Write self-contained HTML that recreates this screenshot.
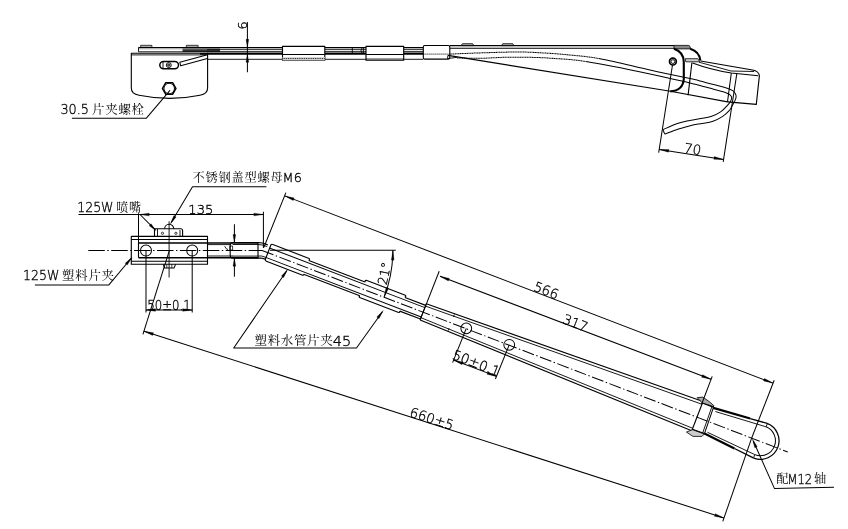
<!DOCTYPE html>
<html lang="zh-CN">
<head>
<meta charset="utf-8">
<title>雨刮臂图纸</title>
<style>
html,body{margin:0;padding:0;background:#fff;}
body{width:848px;height:529px;overflow:hidden;}
svg{display:block;filter:grayscale(100%);}
.t{font-family:"DejaVu Sans Light","DejaVu Sans","Liberation Sans","Noto Serif CJK SC",sans-serif;font-weight:200;fill:#000;stroke:#000;stroke-width:0.34px;}
.c{font-family:"Noto Serif CJK SC","Noto Sans CJK SC",serif;fill:#000;stroke:none;font-weight:400;}
</style>
</head>
<body>
<svg width="848" height="529" viewBox="0 0 848 529" fill="none" stroke="#000" stroke-linecap="butt" stroke-linejoin="round">
<rect x="0" y="0" width="848" height="529" fill="#fff" stroke="none"/>
<g id="sideview">
<path d="M131.3 53.2 L207.6 53.2 L207.6 88 Q207.6 94 200 95.2 Q170 101.5 139 95.2 Q131.3 94 131.3 88 Z" stroke-width="1.12" fill="none" />
<line x1="131.3" y1="54.9" x2="207.6" y2="54.9" stroke-width="0.9" />
<rect x="138.5" y="47.5" width="284.8" height="1.9" fill="#b5b5b5" stroke="none"/>
<rect x="182.5" y="47.6" width="37.5" height="1.8" fill="#777" stroke="none"/>
<rect x="182.5" y="49.3" width="37.5" height="2.6" fill="#333" stroke="none"/>
<line x1="138.5" y1="47.5" x2="138.5" y2="51.8" stroke-width="0.9" />
<line x1="138.5" y1="51.8" x2="207" y2="51.8" stroke-width="0.9" />
<rect x="140.6" y="45.3" width="11.3" height="2.2" fill="#aaa" stroke="#000" stroke-width="0.7"/>
<rect x="186.3" y="45.3" width="11.8" height="2.2" fill="#aaa" stroke="#000" stroke-width="0.7"/>
<rect x="159.8" y="61.4" width="18.7" height="7.4" rx="3.7" stroke-width="1.46" fill="none" />
<line x1="163" y1="61.6" x2="163" y2="68.6" stroke-width="0.9" />
<circle cx="168.8" cy="65.1" r="2.5" stroke-width="0.9" fill="none"/>
<circle cx="168.8" cy="65.1" r="1.2" stroke-width="0.78" fill="#777"/>
<path d="M206.5 54.9 L179.8 62.2 L180.7 65.8 L207.4 58.4" stroke-width="1.01" fill="none" />
<path d="M176 88.5 L172.6 94.39 L165.8 94.39 L162.4 88.5 L165.8 82.61 L172.6 82.61 Z" stroke-width="1.46" fill="none" />
<circle cx="169.2" cy="88.5" r="5.3" stroke-width="1.01" fill="none"/>
<path d="M170 90.4 L146.2 118.3 L71.9 118.3" stroke-width="1.01" fill="none" />
<text x="60.4" y="113.9" font-size="14.4" class="t" textLength="28.6" lengthAdjust="spacingAndGlyphs">30.5</text>
<text x="92 105.2 118.4 131.6" y="113.8" font-size="12.4" class="c">片夹螺栓</text>
<line x1="138.5" y1="47.5" x2="423.3" y2="47.5" stroke-width="1.01" />
<line x1="207" y1="49.6" x2="423.3" y2="49.6" stroke-width="0.78" />
<line x1="207" y1="51.9" x2="423.3" y2="51.9" stroke-width="1.23" />
<line x1="200" y1="53.9" x2="423.3" y2="53.9" stroke-width="1.9" />
<line x1="207.6" y1="59.3" x2="423.3" y2="59.3" stroke-width="0.9" />
<rect x="282.5" y="46.4" width="42.3" height="13.9" rx="0" stroke-width="1.12" fill="#fff" />
<rect x="282.5" y="57" width="42.30000000000001" height="3.3" fill="#d8d8d8" stroke="none"/>
<line x1="282.5" y1="54.6" x2="324.8" y2="54.6" stroke-width="1.01" />
<rect x="366" y="46.4" width="37.7" height="13.9" rx="0" stroke-width="1.12" fill="#fff" />
<line x1="366" y1="54.6" x2="403.7" y2="54.6" stroke-width="1.01" />
<line x1="282.5" y1="58.6" x2="324.8" y2="58.6" stroke-width="0.9" stroke-dasharray="1 0.8"/>
<line x1="366" y1="59" x2="403.7" y2="59" stroke-width="0.78" />
<line x1="352.3" y1="47.5" x2="352.3" y2="53" stroke-width="0.9" />
<path d="M362 47.8 Q360 50.5 362 53.2" stroke-width="0.9" fill="none" />
<line x1="363.4" y1="47.5" x2="363.4" y2="53.2" stroke-width="0.9" />
<rect x="423.3" y="45.5" width="26.5" height="13.6" rx="1.5" stroke-width="1.12" fill="#fff" />
<line x1="423.3" y1="54.1" x2="449.8" y2="54.1" stroke-width="0.9" stroke-dasharray="1.2 0.8"/>
<line x1="449.8" y1="45.6" x2="674" y2="45.6" stroke-width="1.12" />
<line x1="449.8" y1="48.3" x2="674" y2="48.3" stroke-width="1.12" />
<path d="M461.3 45.6 L462.3 43.8 L472.7 43.8 L473.7 45.6 Z" stroke-width="0.9" fill="#c8c8c8" />
<path d="M501.7 45.6 L502.7 43.8 L512.8 43.8 L513.8 45.6 Z" stroke-width="0.9" fill="#c8c8c8" />
<line x1="447.9" y1="55.4" x2="670.5" y2="91.3" stroke-width="1.12" />
<line x1="670.5" y1="91.3" x2="727.5" y2="101.9" stroke-width="1.12" />
<path d="M447.9 55.4 L447.5 58.6 L457 57.3" stroke-width="0.9" fill="none" />
<path d="M449.8 54.1 C454.83 53.9 468.72 53.25 480 52.9 C491.28 52.55 507.08 52 517.5 52 C527.92 52 534.17 52.43 542.5 52.9 C550.83 53.37 557.92 53.83 567.5 54.8 C577.08 55.77 586.25 56.17 600 58.7" stroke-width="1.01" fill="none" stroke-dasharray="1.3 0.4"/>
<path d="M600 58.7 C613.75 61.23 635 66.68 650 70 C665 73.32 681.67 76.78 690 78.6 C698.33 80.42 696.07 79.92 700 80.9 C703.93 81.88 709.07 83.27 713.6 84.5 C718.13 85.73 724.02 87.27 727.2 88.3 C730.38 89.33 731.33 89.8 732.7 90.7 C734.07 91.6 734.83 92.63 735.4 93.7 C735.97 94.77 736.23 95.82 736.1 97.1 C735.97 98.38 735.28 99.92 734.6 101.4 C733.92 102.88 732.9 104.47 732 106 C731.1 107.53 730.82 108.83 729.2 110.6 C727.58 112.37 725.12 114.77 722.3 116.6 C719.48 118.43 715.63 120.45 712.3 121.6 C708.97 122.75 705.85 122.87 702.3 123.5 C698.75 124.13 694.97 124.47 691 125.4 C687.03 126.33 682.87 127.65 678.5 129.1 C674.13 130.55 667.08 133.27 664.8 134.1" stroke-width="1.01" fill="none" />
<path d="M457 57.9 C460.83 57.97 472 58.4 480 58.3 C488 58.2 496.67 57.47 505 57.3 C513.33 57.13 521.67 57.1 530 57.3 C538.33 57.5 545.67 57.78 555 58.5 C564.33 59.22 570.17 59.03 586 61.6" stroke-width="1.01" fill="none" stroke-dasharray="1.3 0.4"/>
<path d="M586 61.6 C601.83 64.17 632.67 70.33 650 73.9 C667.33 77.47 681.67 81.07 690 83 C698.33 84.93 696.07 84.45 700 85.5 C703.93 86.55 709.28 88.1 713.6 89.3 C717.92 90.5 723.17 91.78 725.9 92.7 C728.63 93.62 729.03 94.02 730 94.8 C730.97 95.58 731.6 96.33 731.7 97.4 C731.8 98.47 731.35 99.83 730.6 101.2 C729.85 102.57 728.8 103.87 727.2 105.6 C725.6 107.33 723.7 109.77 721 111.6 C718.3 113.43 714.33 115.45 711 116.6 C707.67 117.75 704.53 117.87 701 118.5 C697.47 119.13 693.75 119.57 689.8 120.4 C685.85 121.23 681.78 121.95 677.3 123.5 C672.82 125.05 665.3 128.67 662.9 129.7" stroke-width="1.01" fill="none" />
<line x1="662.9" y1="129.7" x2="664.8" y2="134.1" stroke-width="1.01" />
<path d="M674 45.4 L688.5 45.4 Q690.5 45.6 690.4 48.9 L674 48.9 Z" fill="#888" stroke="#000" stroke-width="0.8"/>
<path d="M674 48.7 Q683.8 52 683.8 62 L683.8 79 Q683 90.5 670.3 91.4" stroke-width="2.13" fill="none" />
<path d="M690.2 48.7 Q699.5 51.5 700.4 60.6" stroke-width="2.13" fill="none" />
<path d="M685.2 58.7 L697.8 58.7 L699.8 61.8 L685.8 61.8 Z" fill="#ccc" stroke="#000" stroke-width="0.8"/>
<circle cx="672.9" cy="61.6" r="3.4" stroke-width="1.68" fill="none"/>
<circle cx="672.9" cy="61.6" r="1.9" stroke-width="0.9" fill="none"/>
<line x1="691.9" y1="62.5" x2="688.1" y2="95.2" stroke-width="1.12" />
<path d="M700.6 61 L752.5 70 Q758.8 71.2 759.4 75.6 L756.3 104.4 L727.5 101.9" stroke-width="1.12" fill="none" />
<path d="M692.5 63 Q710 69.5 731.3 73.1 L758.2 75.7" stroke-width="1.01" fill="none" />
<path d="M699 62.2 L731 71 L754 71.5" stroke-width="0.9" fill="none" />
<line x1="731.3" y1="73.1" x2="727.5" y2="101.9" stroke-width="1.01" />
<line x1="672.5" y1="65" x2="658.7" y2="152.6" stroke-width="1.01" />
<line x1="736.9" y1="73.1" x2="723.2" y2="161.8" stroke-width="1.01" />
<line x1="659.3" y1="149.4" x2="723.5" y2="159.4" stroke-width="1.01" />
<path d="M659.3 149.4 L668.89 149.53 L668.48 152.2 Z" fill="#000" stroke="#000" stroke-width="0.3"/>
<path d="M723.5 159.4 L713.91 159.27 L714.32 156.6 Z" fill="#000" stroke="#000" stroke-width="0.3"/>
<text x="692" y="153.8" font-size="13.4" text-anchor="middle" class="t" transform="rotate(8.9 692 153.8)">70</text>
<line x1="247.4" y1="21.9" x2="247.4" y2="72.3" stroke-width="1.01" />
<path d="M247.4 47.3 L246.05 39.3 L248.75 39.3 Z" fill="#000" stroke="#000" stroke-width="0.3"/>
<path d="M247.4 54.3 L248.75 62.3 L246.05 62.3 Z" fill="#000" stroke="#000" stroke-width="0.3"/>
<text x="247" y="29.6" font-size="12.8" text-anchor="start" class="t" transform="rotate(-90 247 29.6)">6</text>
</g>
<g id="planview">
<rect x="131.3" y="236.4" width="76.2" height="27.9" rx="0" stroke-width="1.12" fill="none" />
<line x1="131.3" y1="239.6" x2="207.5" y2="239.6" stroke-width="1.01" />
<line x1="131.3" y1="261.2" x2="207.5" y2="261.2" stroke-width="1.01" />
<line x1="138.5" y1="243" x2="258" y2="243" stroke-width="1.46" />
<line x1="138.5" y1="257.7" x2="258" y2="257.7" stroke-width="1.46" />
<line x1="138.5" y1="243" x2="138.5" y2="257.7" stroke-width="1.12" />
<line x1="207.5" y1="244.6" x2="230" y2="244.6" stroke-width="0.9" />
<line x1="207.5" y1="256" x2="233" y2="256" stroke-width="0.9" />
<circle cx="146" cy="250.6" r="5.5" stroke-width="1.01" fill="none"/>
<circle cx="192.2" cy="250.6" r="5.5" stroke-width="1.01" fill="none"/>
<path d="M154.5 236.4 L154.5 228.8 L181 228.8 Q182.6 229 182.6 230.5 L182.6 236.4" stroke-width="1.12" fill="none" />
<line x1="157.5" y1="228.8" x2="157.5" y2="236.4" stroke-width="0.9" />
<line x1="180" y1="230" x2="180" y2="236.4" stroke-width="0.9" />
<circle cx="162.5" cy="233.3" r="1.1" stroke-width="0.78" fill="none"/>
<circle cx="175.9" cy="233.3" r="1.1" stroke-width="0.78" fill="none"/>
<path d="M164.6 228.8 A4.6 4.6 0 0 1 173.8 228.8" stroke-width="1.12" fill="none" />
<path d="M163.2 264.4 L164.6 268 L174 268 L175.6 264.4" stroke-width="1.01" fill="none" />
<line x1="166.8" y1="264.4" x2="166.8" y2="268" stroke-width="0.78" />
<line x1="171.8" y1="264.4" x2="171.8" y2="268" stroke-width="0.78" />
<line x1="169.1" y1="221.3" x2="169.1" y2="277.5" stroke-width="0.9" />
<line x1="88.3" y1="250.5" x2="262" y2="250.5" stroke-width="1.01" stroke-dasharray="16.5 2.5 1.4 2.5"/>
<path d="M258 242.5 L233 242.5 Q230.2 242.7 230.2 245.5 L230.2 255.2 Q230.2 258.2 233 258.2 L258 258.2 Z" stroke-width="1.12" fill="none" />
<line x1="232.6" y1="244.5" x2="258" y2="244.5" stroke-width="0.9" />
<line x1="232.6" y1="256.1" x2="258" y2="256.1" stroke-width="0.9" />
<path d="M224.7 246.3 Q226 249.3 228 249.6" stroke-width="0.9" fill="none" />
<rect x="229.8" y="246" width="2.8" height="4" rx="0" stroke-width="0.78" fill="none" />
<path d="M258 242.7 L262.5 243 L267.8 244.8" stroke-width="1.23" fill="none" />
<path d="M258 258.1 L261 258 L265.4 259.2" stroke-width="1.23" fill="none" />
<path d="M258 244.6 L262 244.9 L267.2 246.6" stroke-width="0.9" fill="none" />
<path d="M258 256.0 L261.6 256.0 L266.0 257.4" stroke-width="0.9" fill="none" />
<line x1="308.83" y1="260.51" x2="365.03" y2="282.08" stroke-width="1.12" />
<line x1="303.56" y1="274.23" x2="359.76" y2="295.81" stroke-width="1.12" />
<line x1="404.99" y1="297.42" x2="425.72" y2="305.38" stroke-width="1.12" />
<line x1="399.72" y1="311.14" x2="420.45" y2="319.1" stroke-width="1.12" />
<line x1="269.41" y1="247.95" x2="424.86" y2="307.62" stroke-width="1.01" />
<line x1="265.79" y1="257.38" x2="421.24" y2="317.05" stroke-width="1.01" />
<path d="M272.2 244.31 L309.08 258.46 L309.61 259.31 L308.83 260.51" stroke-width="1.12" fill="none" />
<path d="M265.79 261.02 L302.67 275.17 L303.63 274.9 L303.56 274.23" stroke-width="1.12" fill="none" />
<path d="M272.2 244.31 L270.95 244.79 L265.18 259.82 L265.79 261.02" stroke-width="1.12" fill="none" />
<path d="M365.03 282.08 L365.29 280.57 L366.25 280.3 L405.28 295.28 L405.81 296.13 L404.99 297.42" stroke-width="1.12" fill="none" />
<path d="M359.76 295.81 L359.13 296.63 L359.62 297.57 L398.65 312.55 L399.64 312.19 L399.72 311.14" stroke-width="1.12" fill="none" />
<line x1="262.02" y1="250.47" x2="787.73" y2="451.95" stroke-width="1.01" stroke-dasharray="12.2 2.5 1.4 2.5"/>
<line x1="426.32" y1="303.79" x2="703.01" y2="401.44" stroke-width="1.12" />
<line x1="420.12" y1="319.94" x2="691.76" y2="430.74" stroke-width="1.12" />
<line x1="425.43" y1="306.12" x2="701.93" y2="404.24" stroke-width="0.9" />
<line x1="420.98" y1="317.7" x2="692.69" y2="428.31" stroke-width="0.9" />
<line x1="426.32" y1="303.79" x2="420.12" y2="319.94" stroke-width="1.01" />
<line x1="454.33" y1="314.54" x2="453.4" y2="316.97" stroke-width="0.9" />
<line x1="448.17" y1="330.6" x2="449.1" y2="328.17" stroke-width="0.9" />
<circle cx="466.28" cy="328.34" r="5.4" stroke-width="1.01" fill="none"/>
<circle cx="509.23" cy="344.82" r="5.4" stroke-width="1.01" fill="none"/>
<line x1="703.01" y1="401.43" x2="692.04" y2="430" stroke-width="1.12" />
<line x1="711.82" y1="406.95" x2="702.6" y2="433.19" stroke-width="0.9" />
<line x1="713.4" y1="407.56" x2="704.37" y2="433.87" stroke-width="1.01" />
<line x1="702.54" y1="402.64" x2="713.9" y2="407.11" stroke-width="2.02" />
<line x1="692.19" y1="429.62" x2="704.3" y2="434.06" stroke-width="2.02" />
<path d="M697.2 397.6 L702.9 397.1 L709.5 401.8 L713.8 405.6 L713.3 406.5 L702 402.8 Z" fill="#aaa" stroke="#000" stroke-width="0.8"/>
<path d="M686.4 432.1 L693 436.4 L702 436.4 L704.3 434 L692.5 429.7 Z" fill="#ccc" stroke="#000" stroke-width="0.8"/>
<line x1="713.26" y1="407.94" x2="750.22" y2="418.53" stroke-width="2.24" />
<line x1="750.22" y1="418.53" x2="767.11" y2="423.36" stroke-width="1.34" />
<line x1="704.48" y1="433.59" x2="734.43" y2="448.5" stroke-width="2.24" />
<line x1="734.43" y1="448.5" x2="753.78" y2="458.09" stroke-width="1.34" />
<line x1="715.41" y1="411.55" x2="766.1" y2="426.83" stroke-width="0.9" />
<line x1="707.45" y1="432.27" x2="754.79" y2="454.62" stroke-width="0.9" />
<path d="M767.11 423.36 A18.6 18.6 0 0 1 753.78 458.09" stroke-width="1.23" fill="none" />
<path d="M766.1 426.83 A15.0 15.0 0 0 1 754.79 454.62" stroke-width="1.01" fill="none" />
<line x1="767.25" y1="423.84" x2="766.1" y2="426.83" stroke-width="0.9" />
<line x1="753.68" y1="457.51" x2="754.79" y2="454.62" stroke-width="0.9" />
<line x1="78.5" y1="214.5" x2="263.4" y2="214.5" stroke-width="1.01" />
<path d="M139.6 214.5 L149.1 213.15 L149.1 215.85 Z" fill="#000" stroke="#000" stroke-width="0.3"/>
<path d="M263.4 214.5 L253.9 215.85 L253.9 213.15 Z" fill="#000" stroke="#000" stroke-width="0.3"/>
<line x1="138.5" y1="213.3" x2="138.5" y2="243" stroke-width="1.01" />
<line x1="263.4" y1="211.8" x2="263.4" y2="248" stroke-width="1.01" />
<text x="188.3" y="214.3" font-size="12.8" class="t" textLength="25" lengthAdjust="spacingAndGlyphs">135</text>
<text x="77.2" y="211.7" font-size="13.3" class="t" textLength="36.3" lengthAdjust="spacingAndGlyphs">125W</text>
<text x="116.3 129" y="211.8" font-size="12.0" class="c">喷嘴</text>
<line x1="140" y1="214.5" x2="155.6" y2="230.2" stroke-width="1.01" />
<path d="M155.8 230.4 L149.22 225.66 L151.06 223.82 Z" fill="#000" stroke="#000" stroke-width="0.3"/>
<text x="192.4 205.4 218.4 231.4 244.4 257.4 270.4" y="181.8" font-size="12.2" class="c">不锈钢盖型螺母</text>
<text x="282.6" y="181.6" font-size="12.7" class="t" textLength="19.2" lengthAdjust="spacingAndGlyphs">M6</text>
<path d="M266.4 186.8 L192.5 186.8 L171.2 222.6" stroke-width="1.01" fill="none" />
<path d="M170.4 224 L173.88 215.6 L176.12 216.93 Z" fill="#000" stroke="#000" stroke-width="0.3"/>
<text x="23.1" y="280.2" font-size="13.3" class="t" textLength="36.3" lengthAdjust="spacingAndGlyphs">125W</text>
<text x="62 75.2 88.4 101.6" y="280.2" font-size="12.4" class="c">塑料片夹</text>
<path d="M34.9 284.9 L108.9 284.9 L131.2 258.2" stroke-width="1.01" fill="none" />
<path d="M132 257.3 L127.23 265.04 L125.23 263.37 Z" fill="#000" stroke="#000" stroke-width="0.3"/>
<line x1="146" y1="251" x2="146" y2="312.5" stroke-width="1.01" />
<line x1="192.2" y1="251" x2="192.2" y2="312.5" stroke-width="1.01" />
<line x1="146" y1="310" x2="192.2" y2="310" stroke-width="1.01" />
<path d="M146 310 L155.5 308.65 L155.5 311.35 Z" fill="#000" stroke="#000" stroke-width="0.3"/>
<path d="M192.2 310 L182.7 311.35 L182.7 308.65 Z" fill="#000" stroke="#000" stroke-width="0.3"/>
<text x="147.2" y="309.8" font-size="13.6" class="t" textLength="43.5" lengthAdjust="spacingAndGlyphs">50±0.1</text>
<line x1="234.4" y1="224.3" x2="234.4" y2="242.6" stroke-width="1.01" />
<line x1="234.4" y1="258.2" x2="234.4" y2="276.7" stroke-width="1.01" />
<path d="M234.4 242.6 L233.05 234.6 L235.75 234.6 Z" fill="#000" stroke="#000" stroke-width="0.3"/>
<path d="M234.4 258.2 L235.75 266.2 L233.05 266.2 Z" fill="#000" stroke="#000" stroke-width="0.3"/>
<line x1="270" y1="250.3" x2="395.8" y2="250.3" stroke-width="1.01" />
<path d="M392.9 250.3 A130.7 130.7 0 0 1 384.22 296.84" stroke-width="1.01" fill="none" />
<path d="M392.9 250.6 L394.06 260.13 L391.36 260.07 Z" fill="#000" stroke="#000" stroke-width="0.3"/>
<path d="M384.22 296.84 L386.1 287.43 L388.64 288.32 Z" fill="#000" stroke="#000" stroke-width="0.3"/>
<text x="386.6" y="285.4" font-size="12.8" text-anchor="start" class="t" transform="rotate(-79 386.6 285.4)">21°</text>
<text x="254.5 267.65 280.8 293.95 307.1 320.25" y="344.8" font-size="12.5" class="c">塑料水管片夹</text>
<text x="332.8" y="345.5" font-size="13.3" class="t" textLength="18.4" lengthAdjust="spacingAndGlyphs">45</text>
<path d="M286.74 270.7 L233.7 348 L356.5 348 L382.4 311.7" stroke-width="1.01" fill="none" />
<path d="M383.2 310.6 L378.96 318.64 L376.85 317.11 Z" fill="#000" stroke="#000" stroke-width="0.3"/>
<path d="M287.64 269.4 L283.62 277.56 L281.47 276.09 Z" fill="#000" stroke="#000" stroke-width="0.3"/>
<line x1="284.8" y1="195.9" x2="772.9" y2="383.1" stroke-width="1.01" />
<path d="M284.8 195.9 L294.15 198.04 L293.19 200.56 Z" fill="#000" stroke="#000" stroke-width="0.3"/>
<path d="M772.9 383.1 L763.55 380.96 L764.51 378.44 Z" fill="#000" stroke="#000" stroke-width="0.3"/>
<line x1="263.9" y1="247.3" x2="285.9" y2="192.6" stroke-width="1.01" />
<line x1="751.8" y1="437.7" x2="774.2" y2="380.2" stroke-width="1.01" />
<text x="544.6" y="294.9" font-size="13.4" text-anchor="middle" class="t" transform="rotate(21 544.6 294.9)">566</text>
<line x1="440" y1="276.3" x2="711" y2="379.3" stroke-width="1.01" />
<path d="M440 276.3 L449.36 278.41 L448.4 280.94 Z" fill="#000" stroke="#000" stroke-width="0.3"/>
<path d="M711 379.3 L701.64 377.19 L702.6 374.66 Z" fill="#000" stroke="#000" stroke-width="0.3"/>
<line x1="420.12" y1="319.94" x2="439.2" y2="271.2" stroke-width="1.01" />
<line x1="712.2" y1="376.4" x2="701.5" y2="404.5" stroke-width="1.01" />
<text x="573.8" y="327.4" font-size="13.4" text-anchor="middle" class="t" transform="rotate(21 573.8 327.4)">317</text>
<line x1="453.6" y1="360" x2="496.4" y2="376.4" stroke-width="1.01" />
<path d="M453.6 360 L462.95 362.14 L461.99 364.66 Z" fill="#000" stroke="#000" stroke-width="0.3"/>
<path d="M496.4 376.4 L487.05 374.26 L488.01 371.74 Z" fill="#000" stroke="#000" stroke-width="0.3"/>
<line x1="466.28" y1="328.34" x2="452.6" y2="362.6" stroke-width="1.01" />
<line x1="509.23" y1="344.82" x2="495.4" y2="379" stroke-width="1.01" />
<text x="474.6" y="367.4" font-size="13.4" text-anchor="middle" class="t" transform="rotate(21 474.6 367.4)">50±0.1</text>
<line x1="144" y1="331.2" x2="723.9" y2="517.9" stroke-width="1.01" />
<path d="M144 331.2 L153.46 332.83 L152.63 335.4 Z" fill="#000" stroke="#000" stroke-width="0.3"/>
<path d="M723.9 517.9 L714.44 516.27 L715.27 513.7 Z" fill="#000" stroke="#000" stroke-width="0.3"/>
<line x1="169.3" y1="250.8" x2="142.9" y2="334.4" stroke-width="1.01" />
<line x1="751.8" y1="437.7" x2="722.8" y2="521.4" stroke-width="1.01" />
<text x="430.4" y="423.2" font-size="13.4" text-anchor="middle" class="t" transform="rotate(17.85 430.4 423.2)">660±5</text>
<path d="M753.4 441.2 L774.4 488.4 L834 487.3" stroke-width="1.01" fill="none" />
<path d="M752.4 438.9 L757.18 446.64 L754.8 447.67 Z" fill="#000" stroke="#000" stroke-width="0.3"/>
<text x="776.2" y="483.4" font-size="12.2" class="c">配</text>
<text x="787.6" y="483.7" font-size="13.3" class="t" textLength="24.6" lengthAdjust="spacingAndGlyphs">M12</text>
<text x="813.9" y="483.4" font-size="12.2" class="c">轴</text>
</g>
</svg>
</body>
</html>
